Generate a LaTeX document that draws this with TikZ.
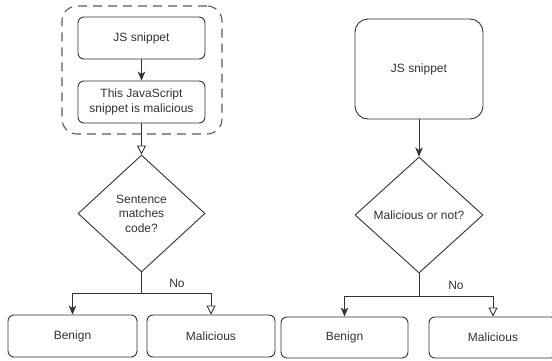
\documentclass[tikz,border=0pt]{standalone}
\usepackage{fontspec}
\setmainfont{Liberation Sans}
\usetikzlibrary{shapes.geometric,arrows.meta}
\definecolor{ink}{HTML}{333333}
\tikzset{
  box/.style={draw=ink, line width=0.9pt, rounded corners=6pt, text=ink, align=center, inner sep=0pt, font=\fontsize{12}{14.5}\selectfont},
  dia/.style={draw=ink, line width=0.9pt, diamond, aspect=1, inner sep=0pt, text=ink, align=center, font=\fontsize{12}{14.5}\selectfont},
  grp/.style={draw=ink!80, line width=1.1pt, dash pattern=on 9pt off 6pt, rounded corners=15pt, inner sep=0pt},
  conn/.style={draw=ink, line width=0.9pt},
  fillarrow/.style={conn, -{Stealth[length=9pt, width=7.5pt, inset=2.5pt]}},
  openarrow/.style={conn, -{Triangle[open, length=9pt, width=9pt]}},
  lbl/.style={text=ink, font=\fontsize{12}{14}\selectfont, inner sep=0pt}
}
\begin{document}
\begin{tikzpicture}[x=1pt, y=-1pt]
\clip (0,0) rectangle (552,360);
\fill[white] (0,0) rectangle (552,360);
% ---------- left panel ----------
\node[grp, minimum width=160pt, minimum height=128pt] (grp) at (142,70) {};
\node[box, minimum width=127pt, minimum height=42pt] (js1) at (141.5,38) {JS snippet};
\node[box, minimum width=127pt, minimum height=42pt] (stmt) at (141.5,102) {This JavaScript\\snippet is malicious};
\node[dia, minimum width=127pt, minimum height=117pt] (dia1) at (141.5,213.5) {Sentence\\matches\\code?};
\coordinate (split1) at (141.5,293);
\node[box, minimum width=129pt, minimum height=42pt] (ben1) at (72.5,336) {Benign};
\node[box, minimum width=128pt, minimum height=42pt] (mal1) at (211,336) {Malicious};
\draw[fillarrow] (js1) -- (stmt);
\draw[openarrow] (stmt) -- (dia1.north);
\draw[conn] (dia1.south) -- (split1);
\draw[fillarrow] (split1) -| (ben1.north);
\draw[openarrow] (split1) -| (mal1.north);
\node[lbl] (no1) at (177,283) {No};
% ---------- right panel ----------
\node[box, rounded corners=13pt, minimum width=128pt, minimum height=100pt] (js2) at (419,69) {JS snippet};
\node[dia, minimum width=128pt, minimum height=116pt] (dia2) at (419,215) {Malicious or not?};
\coordinate (split2) at (419,296);
\node[box, minimum width=127pt, minimum height=41pt] (ben2) at (344.5,337.5) {Benign};
\node[box, minimum width=128pt, minimum height=41pt] (mal2) at (493,337.5) {Malicious};
\draw[fillarrow] (js2) -- (dia2.north);
\draw[conn] (dia2.south) -- (split2);
\draw[fillarrow] (split2) -| (ben2.north);
\draw[openarrow] (split2) -| (mal2.north);
\node[lbl] (no2) at (456,285) {No};
\end{tikzpicture}
\end{document}
